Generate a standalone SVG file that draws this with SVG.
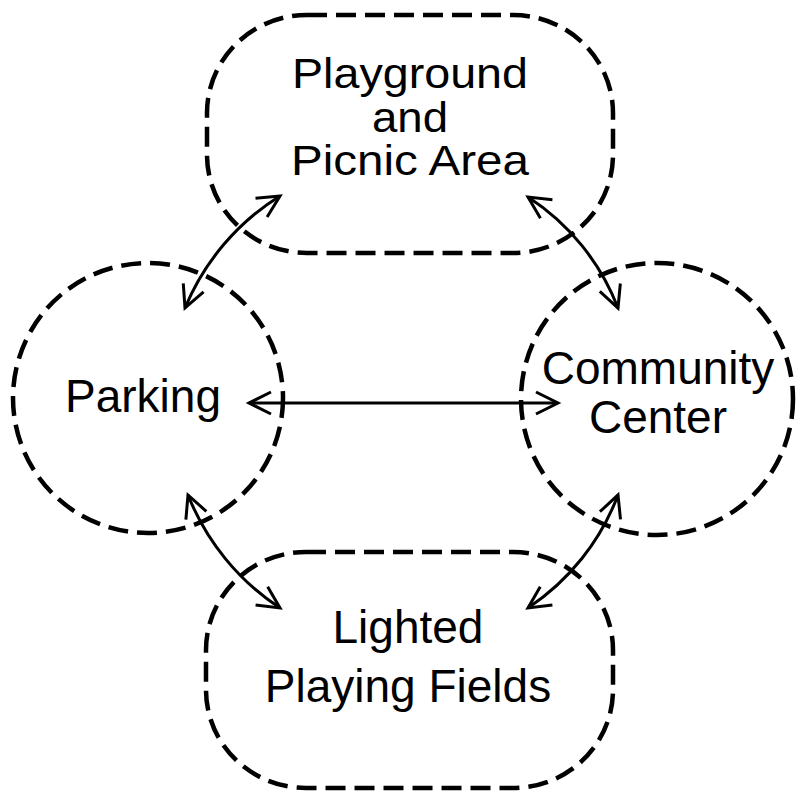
<svg xmlns="http://www.w3.org/2000/svg" width="800" height="797" viewBox="0 0 800 797">
<style>
.node{fill:none;stroke:#000;stroke-width:4.5;stroke-dasharray:20 9}
.lbl{font-family:"Liberation Sans",Arial,sans-serif;font-size:46px;fill:#000;text-anchor:middle}
.sm{font-size:42px}
.conn{fill:none;stroke:#000;stroke-width:3}
</style>
<defs>
<marker id="ah" markerUnits="userSpaceOnUse" markerWidth="30" markerHeight="30" viewBox="-26 -15 30 30" refX="0" refY="0" orient="auto-start-reverse">
<path d="M -22 -11 L 0 0 L -22 11" fill="none" stroke="#000" stroke-width="3"/>
</marker>
</defs>
<rect width="800" height="797" fill="#fff"/>
<g id="playground">
<rect class="node" x="207" y="15" width="406" height="238" rx="100" ry="98"/>
<text class="lbl sm" x="410" y="88" textLength="236" lengthAdjust="spacingAndGlyphs">Playground</text>
<text class="lbl sm" x="410" y="132" textLength="76" lengthAdjust="spacingAndGlyphs">and</text>
<text class="lbl sm" x="410" y="175" textLength="238" lengthAdjust="spacingAndGlyphs">Picnic Area</text>
</g>
<g id="parking">
<circle class="node" cx="148" cy="398" r="135"/>
<text class="lbl" x="143" y="412">Parking</text>
</g>
<g id="community">
<circle class="node" cx="657" cy="399" r="136"/>
<text class="lbl" x="658" y="384">Community</text>
<text class="lbl" x="658" y="433">Center</text>
</g>
<g id="fields">
<rect class="node" x="206" y="552" width="407" height="236" rx="100" ry="98"/>
<text class="lbl" x="408" y="643">Lighted</text>
<text class="lbl" x="408" y="702">Playing Fields</text>
</g>
<g id="connectors">
<path class="conn" d="M 280 196 A 240 240 0 0 0 185 308" marker-start="url(#ah)" marker-end="url(#ah)"/>
<path class="conn" d="M 528 197 A 232 232 0 0 1 618 308" marker-start="url(#ah)" marker-end="url(#ah)"/>
<path class="conn" d="M 188 495 A 242 242 0 0 0 280 608" marker-start="url(#ah)" marker-end="url(#ah)"/>
<path class="conn" d="M 618 495 A 236 236 0 0 1 528 608" marker-start="url(#ah)" marker-end="url(#ah)"/>
<path class="conn" d="M 249 403 L 558 403" marker-start="url(#ah)" marker-end="url(#ah)"/>
</g>
</svg>
